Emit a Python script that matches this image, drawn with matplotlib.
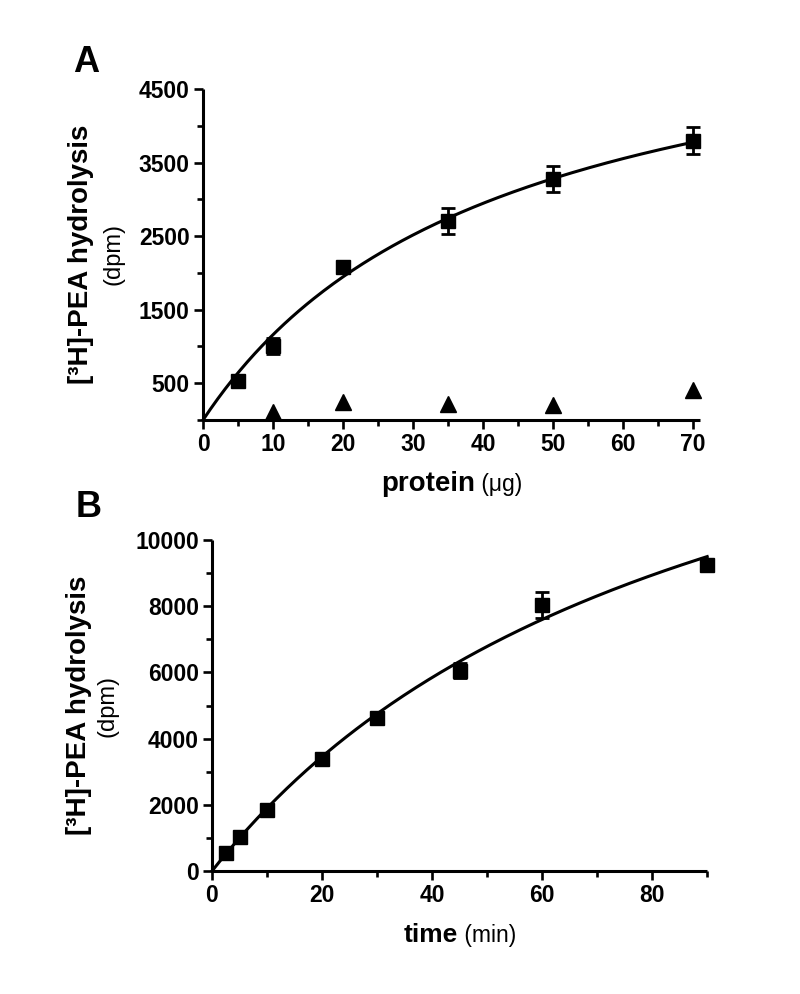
import numpy as np
import matplotlib
matplotlib.use("Agg")
import matplotlib.pyplot as plt
from matplotlib.ticker import MultipleLocator
from matplotlib.offsetbox import TextArea, HPacker, AnchoredOffsetbox

plt.rcParams['font.family'] = ['Liberation Sans', 'DejaVu Sans']

# panel A: hydrolysis vs protein
protein = [5, 10, 20, 35, 50, 70]
hydro_a = [531, 1004, 2077, 2707, 3279, 3797]
err_a = [30, 110, 30, 180, 180, 180]
protein_ctrl = [10, 20, 35, 50, 70]
ctrl_a = [104, 239, 216, 203, 405]
fit_a_bmax, fit_a_k = 6051.0, 42.2

# panel B: hydrolysis vs time
time_min = [2.5, 5, 10, 20, 30, 45, 60, 90]
hydro_b = [553, 1017, 1843, 3373, 4612, 6052, 8036, 9245]
err_b = [40, 40, 60, 60, 60, 220, 390, 60]
fit_b_bmax, fit_b_k = 19000.0, 90.0

TICK_FS = 16.5
LW = 2.2


def style_axes(ax):
    for s in ['top', 'right']:
        ax.spines[s].set_visible(False)
    for s in ['left', 'bottom']:
        ax.spines[s].set_linewidth(LW)
        ax.spines[s].set_capstyle('butt')
    ax.tick_params(which='major', length=6.5, width=1.9, direction='out',
                   labelsize=TICK_FS, pad=3)
    ax.tick_params(which='minor', length=4.5, width=1.9, direction='out')
    for lab in ax.get_xticklabels() + ax.get_yticklabels():
        lab.set_fontweight('bold')


def add_xlabel(ax, bold, plain, bsize, psize):
    box = HPacker(children=[TextArea(bold, textprops=dict(size=bsize, weight='bold')),
                            TextArea(plain, textprops=dict(size=psize))],
                  align='baseline', pad=0, sep=0)
    anc = AnchoredOffsetbox(loc='center', child=box, pad=0, frameon=False,
                            bbox_to_anchor=(0.5, -0.193), bbox_transform=ax.transAxes,
                            borderpad=0)
    ax.add_artist(anc)


def add_ylabel(ax, xb, xp):
    ax.text(xb, 0.5, "[³H]-PEA hydrolysis", rotation=90, ha='center', va='center',
            fontsize=20, fontweight='bold', transform=ax.transAxes)
    ax.text(xp, 0.5, "(dpm)", rotation=90, ha='center', va='center',
            fontsize=17, transform=ax.transAxes)


fig = plt.figure(figsize=(8, 9.94), dpi=100)

# ---- A ----
axA = fig.add_axes([0.2538, 0.5775, 0.621, 0.333])
xa = np.linspace(0, 70, 200)
axA.plot(xa, fit_a_bmax * xa / (fit_a_k + xa), color='black', lw=LW, clip_on=False)
axA.errorbar(protein, hydro_a, yerr=err_a, fmt='s', color='black', ms=10,
             capsize=5, capthick=2, elinewidth=2, clip_on=False, zorder=3)
axA.plot(protein_ctrl, ctrl_a, '^', color='black', ms=11, clip_on=False, zorder=3)
axA.set_xlim(0, 71)
axA.set_ylim(0, 4500)
axA.xaxis.set_major_locator(MultipleLocator(10))
axA.xaxis.set_minor_locator(MultipleLocator(5))
axA.set_yticks([500, 1500, 2500, 3500, 4500])
axA.yaxis.set_minor_locator(MultipleLocator(1000))
style_axes(axA)
add_xlabel(axA, "protein", " (μg)", 20, 16.5)
add_ylabel(axA, -0.2455, -0.181)

# ---- B ----
axB = fig.add_axes([0.265, 0.1237, 0.619, 0.333])
xb = np.linspace(0, 90, 200)
axB.plot(xb, fit_b_bmax * xb / (fit_b_k + xb), color='black', lw=LW, clip_on=False)
axB.errorbar(time_min, hydro_b, yerr=err_b, fmt='s', color='black', ms=10,
             capsize=5, capthick=2, elinewidth=2, clip_on=False, zorder=3)
axB.set_xlim(0, 90)
axB.set_ylim(0, 10000)
axB.xaxis.set_major_locator(MultipleLocator(20))
axB.xaxis.set_minor_locator(MultipleLocator(10))
axB.yaxis.set_major_locator(MultipleLocator(2000))
axB.yaxis.set_minor_locator(MultipleLocator(1000))
style_axes(axB)
add_xlabel(axB, "time", " (min)", 19, 16.5)
add_ylabel(axB, -0.269, -0.212)

fig.text(0.091, 0.955, "A", fontsize=26, fontweight='bold', ha='left', va='top')
fig.text(0.094, 0.507, "B", fontsize=26, fontweight='bold', ha='left', va='top')

fig.savefig("out.png", dpi=100)
